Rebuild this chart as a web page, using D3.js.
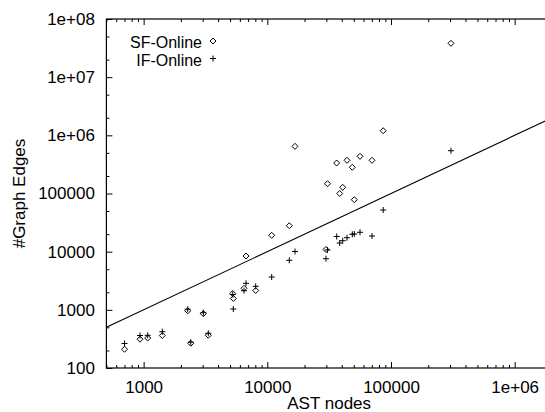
<!DOCTYPE html>
<html>
<head>
<meta charset="utf-8">
<script src="https://cdn.jsdelivr.net/npm/d3@7"></script>
<style>
  body { margin: 0; background: #fff; }
  svg { display: block; font-family: "Liberation Sans", Arial, sans-serif; }
</style>
</head>
<body>
<div class="chart"></div>
<script>
// AST nodes vs. number of graph edges, log-log scatter
const astNodes = [701, 935, 1079, 1416, 2272, 2403, 3038, 3334, 5252, 5311, 6481, 6726,
  8058, 10854, 15064, 16746, 29820, 30670, 36390, 38480, 40690, 44100, 48660, 50500,
  56170, 70230, 86490, 305500];
const sfEdges = [210, 313, 328, 362, 962, 266, 858, 365, 1909, 1566, 2345, 8423,
  2149, 19110, 27940, 647700, 10890, 147300, 334400, 99960, 127770, 372100, 282000, 78200,
  435900, 372100, 1200000, 38200000];
const ifEdges = [264, 362, 365, 421, 1025, 278, 892, 395, 1834, 1033, 2133, 2858,
  2538, 3668, 7104, 10060, 7568, 10680, 18220, 14090, 15430, 17380, 19880, 20120,
  21530, 18590, 52030, 544000];
const seriesNames = ["SF-Online", "IF-Online"];
const xTickValues = [1000, 10000, 100000, 1000000];
const xTickLabels = ["1000", "10000", "100000", "1e+06"];
const yTickValues = [100, 1000, 10000, 100000, 1000000, 10000000, 100000000];
const yTickLabels = ["100", "1000", "10000", "100000", "1e+06", "1e+07", "1e+08"];
const xLabel = "AST nodes";
const yLabel = "#Graph Edges";

const margin = { top: 19, right: 0, bottom: 44, left: 106.4 };
const width = 445.5,
  height = 412 - margin.top - margin.bottom;

const svg = d3
  .select(".chart")
  .append("svg")
  .attr("width", 545)
  .attr("height", 412)
  .append("g")
  .attr("transform", `translate(${margin.left}, ${margin.top})`);

const xScale = d3.scaleLog().domain([500, 2000000]).range([0, width]);
const yScale = d3.scaleLog().domain([100, 100000000]).range([height, 0]);

// minor ticks: 2..9 per decade on x, 2 and 5 on y
const xMinor = [];
for (let p = 100; p <= 1000000; p *= 10) {
  for (let k = 2; k <= 9; k++) {
    const v = k * p;
    if (v >= 500 && v <= 2000000 && xTickValues.indexOf(v) < 0) xMinor.push(v);
  }
}
const yMinor = [];
for (let p = 100; p < 100000000; p *= 10) {
  yMinor.push(2 * p, 5 * p);
}

const fontSize = 17;

// major ticks with labels
svg
  .append("g")
  .attr("class", "x-axis")
  .attr("transform", `translate(0, ${height})`)
  .call(
    d3.axisBottom(xScale).tickValues(xTickValues).tickSize(-6).tickPadding(13)
      .tickFormat((d, i) => xTickLabels[i])
  );
svg
  .append("g")
  .attr("class", "y-axis")
  .call(
    d3.axisLeft(yScale).tickValues(yTickValues).tickSize(-6).tickPadding(11.5)
      .tickFormat((d, i) => yTickLabels[i])
  );
// mirrored major ticks
svg.append("g").attr("class", "mirror")
  .call(d3.axisTop(xScale).tickValues(xTickValues).tickSize(-6).tickFormat(""));
svg.append("g").attr("class", "mirror")
  .attr("transform", `translate(${width}, 0)`)
  .call(d3.axisRight(yScale).tickValues(yTickValues).tickSize(-6).tickFormat(""));
// minor ticks on all sides
svg.append("g").attr("class", "mirror")
  .attr("transform", `translate(0, ${height})`)
  .call(d3.axisBottom(xScale).tickValues(xMinor).tickSize(-3).tickFormat(""));
svg.append("g").attr("class", "mirror")
  .call(d3.axisTop(xScale).tickValues(xMinor).tickSize(-3).tickFormat(""));
svg.append("g").attr("class", "mirror")
  .call(d3.axisLeft(yScale).tickValues(yMinor).tickSize(-3).tickFormat(""));
svg.append("g").attr("class", "mirror")
  .attr("transform", `translate(${width}, 0)`)
  .call(d3.axisRight(yScale).tickValues(yMinor).tickSize(-3).tickFormat(""));

svg.selectAll(".domain").remove();
svg.selectAll(".tick line").attr("stroke", "#000").attr("stroke-width", 1);
svg.selectAll(".tick text")
  .attr("fill", "#000")
  .style("font-size", fontSize + "px")
  .style("font-family", '"Liberation Sans", Arial, sans-serif');

// frame
svg
  .append("rect")
  .attr("x", 0)
  .attr("y", 0)
  .attr("width", width)
  .attr("height", height)
  .attr("fill", "none")
  .attr("stroke", "#000")
  .attr("stroke-width", 1.2);

// axis titles
svg
  .append("text")
  .attr("x", width / 2)
  .attr("y", height + 41)
  .style("text-anchor", "middle")
  .style("font-size", fontSize + "px")
  .text(xLabel);
svg
  .append("text")
  .attr("transform", `translate(${25 - margin.left}, ${height / 2}) rotate(-90)`)
  .style("text-anchor", "middle")
  .style("font-size", fontSize + "px")
  .text(yLabel);

// reference line y = x
const lineDomain = xScale.domain();
svg
  .append("path")
  .datum(lineDomain)
  .attr("fill", "none")
  .attr("stroke", "#000")
  .attr("stroke-width", 1.1)
  .attr("d", d3.line().x((d) => xScale(d)).y((d) => yScale(d)));

const diamond = "M0,-3L3,0L0,3L-3,0Z";
const plus = "M-3,0H3M0,-3V3";

const points = astNodes.map((d, i) => ({ x: d, sf: sfEdges[i], if: ifEdges[i] }));

svg
  .selectAll(".sf")
  .data(points)
  .enter()
  .append("path")
  .attr("class", "sf")
  .attr("d", diamond)
  .attr("transform", (d) => `translate(${xScale(d.x)}, ${yScale(d.sf)})`)
  .attr("fill", "none")
  .attr("stroke", "#000")
  .attr("stroke-width", 1);

svg
  .selectAll(".if")
  .data(points)
  .enter()
  .append("path")
  .attr("class", "if")
  .attr("d", plus)
  .attr("transform", (d) => `translate(${xScale(d.x)}, ${yScale(d.if)})`)
  .attr("fill", "none")
  .attr("stroke", "#000")
  .attr("stroke-width", 1);

// legend (slightly smaller text so the two rows don't collide)
const legend = svg.append("g").attr("transform", `translate(${202 - margin.left}, 0)`);
seriesNames.forEach((name, i) => {
  legend
    .append("text")
    .attr("x", 0)
    .attr("y", 28.5 + i * 18.4)
    .style("text-anchor", "end")
    .style("font-size", "16px")
    .text(name);
  legend
    .append("path")
    .attr("d", i === 0 ? diamond : plus)
    .attr("transform", `translate(11, ${22 + i * 17.5})`)
    .attr("fill", "none")
    .attr("stroke", "#000")
    .attr("stroke-width", 1);
});
</script>
</body>
</html>
